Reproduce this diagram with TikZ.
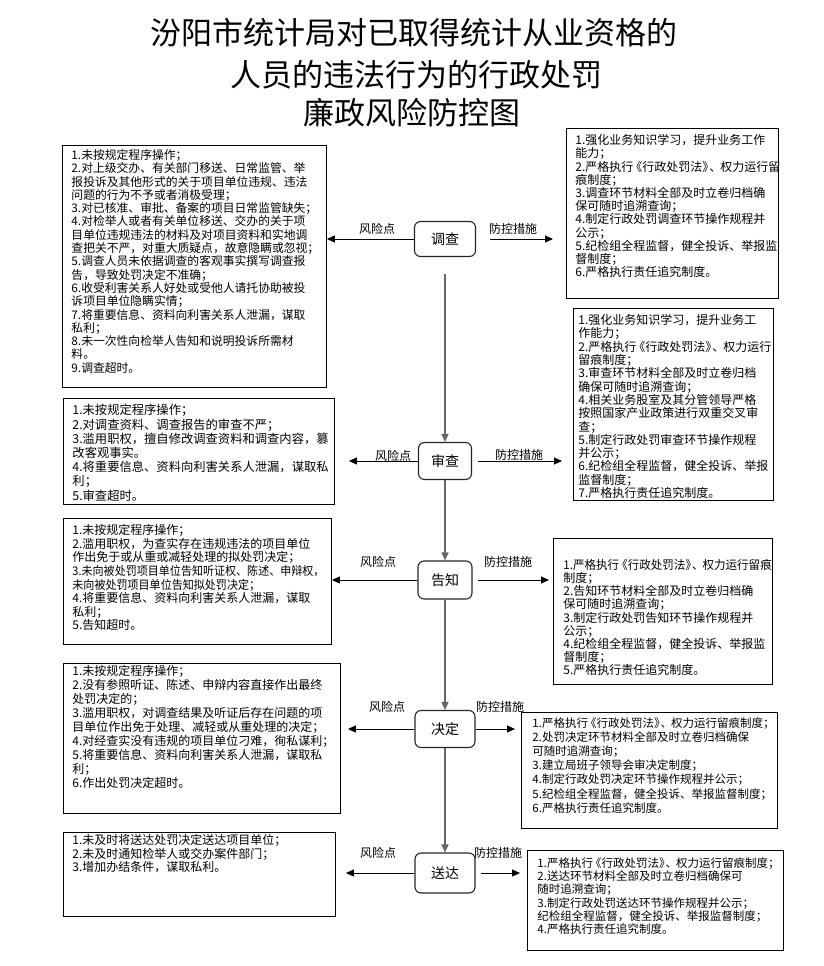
\documentclass[tikz,border=0pt]{standalone}
\usepackage{fontspec}
\setmainfont{Noto Sans CJK SC}
\usepackage{graphicx}
\usetikzlibrary{arrows.meta}
\newcommand\xzcf{\kern-3pt《行政处罚法》\kern-5pt、\kern-1pt}
% width, height, padx, pady, size, skip, text
\newcommand\bxt[7]{\hspace*{#3}\parbox[c][#2][t]{\dimexpr#1-#3\relax}{\fontsize{#5}{#6}\selectfont\vspace*{#4}#7}}
\tikzset{
  tbox/.style={draw=black, line width=0.9pt, inner sep=0pt, anchor=north west},
  stage/.style={draw=black!85, line width=1.1pt, rounded corners=6pt, font=\fontsize{14}{16}\selectfont, inner sep=0pt},
  lbl/.style={font=\fontsize{12}{14}\selectfont, inner sep=0pt},
  harr/.style={-{Triangle[length=8pt,width=7pt]}, line width=0.9pt, black},
  varr/.style={-{Triangle[length=8pt,width=7pt]}, line width=1.4pt, black!60},
  ttl/.style={font=\fontsize{31}{33}\selectfont, inner sep=0pt}
}
\begin{document}
\begin{tikzpicture}[x=1pt,y=-1pt]
\fill[white] (0,0) rectangle (823,966);
\useasboundingbox (0,0) rectangle (823,966);
% title
\node[ttl] (t1) at (414,33) {汾阳市统计局对已取得统计从业资格的};
\node[ttl] (t2) at (416,75) {人员的违法行为的行政处罚};
\node[ttl] (t3) at (412,113) {廉政风险防控图};
% stages
\node[stage, minimum width=61pt, minimum height=35pt] (s1) at (445,239) {调查};
\node[stage, minimum width=53pt, minimum height=37pt] (s2) at (445,461) {审查};
\node[stage, minimum width=54pt, minimum height=38pt] (s3) at (445,580) {告知};
\node[stage, minimum width=60pt, minimum height=37pt] (s4) at (445,729) {决定};
\node[stage, minimum width=60pt, minimum height=40pt] (s5) at (445,873) {送达};
% left boxes
\node[tbox] (L1) at (62,145) {\bxt{264pt}{242pt}{9pt}{4pt}{11.8pt}{13.3pt}{%
1.未按规定程序操作；\\
2.对上级交办、有关部门移送、日常监管、举\\
报投诉及其他形式的关于项目单位违规、违法\\
问题的行为不予或者消极受理；\\
3.对已核准、审批、备案的项目日常监管缺失；\\
4.对检举人或者有关单位移送、交办的关于项\\
目单位违规违法的材料及对项目资料和实地调\\
查把关不严，对重大质疑点，故意隐瞒或忽视；\\
5.调查人员未依据调查的客观事实撰写调查报\\
告，导致处罚决定不准确；\\
6.收受利害关系人好处或受他人请托协助被投\\
诉项目单位隐瞒实情；\\
7.将重要信息、资料向利害关系人泄漏，谋取\\
私利；\\
8.未一次性向检举人告知和说明投诉所需材\\
料。\\
9.调查超时。}};
\node[tbox] (L2) at (63,398) {\bxt{271pt}{106pt}{9pt}{6pt}{12.3pt}{14.2pt}{%
1.未按规定程序操作；\\
2.对调查资料、调查报告的审查不严；\\
3.滥用职权，擅自修改调查资料和调查内容，篡\\
改客观事实。\\
4.将重要信息、资料向利害关系人泄漏，谋取私\\
利；\\
5.审查超时。}};
\node[tbox] (L3) at (63,518) {\bxt{268pt}{126pt}{9pt}{6pt}{12pt}{13.6pt}{%
1.未按规定程序操作；\\
2.滥用职权，为查实存在违规违法的项目单位\\
作出免于或从重或减轻处理的拟处罚决定；\\
\scalebox{0.92}[1]{3.未向被处罚项目单位告知听证权、陈述、申辩权，}\\
\scalebox{0.92}[1]{未向被处罚项目单位告知拟处罚决定；}\\
4.将重要信息、资料向利害关系人泄漏，谋取\\
私利；\\
5.告知超时。}};
\node[tbox] (L4) at (63,663) {\bxt{277pt}{150pt}{9pt}{2pt}{12pt}{14pt}{%
1.未按规定程序操作；\\
2.没有参照听证、陈述、申辩内容直接作出最终\\
处罚决定的；\\
3.滥用职权，对调查结果及听证后存在问题的项\\
目单位作出免于处理、减轻或从重处理的决定；\\
4.对经查实没有违规的项目单位刁难，徇私谋利；\\
5.将重要信息、资料向利害关系人泄漏，谋取私\\
利；\\
6.作出处罚决定超时。}};
\node[tbox] (L5) at (63,832) {\bxt{272pt}{84pt}{9pt}{2pt}{12pt}{13.5pt}{%
1.未及时将送达处罚决定送达项目单位；\\
2.未及时通知检举人或交办案件部门；\\
3.增加办结条件，谋取私利。}};
% right boxes
\node[tbox] (R1) at (566,128) {\bxt{212pt}{170pt}{9pt}{6pt}{12pt}{13.2pt}{%
1.强化业务知识学习，提升业务工作\\
能力；\\
2.严格执行\xzcf 权力运行留\\
痕制度；\\
3.调查环节材料全部及时立卷归档确\\
保可随时追溯查询；\\
4.制定行政处罚调查环节操作规程并\\
公示；\\
5.纪检组全程监督，健全投诉、举报监\\
督制度；\\
6.严格执行责任追究制度。}};
\node[tbox] (R2) at (573,308) {\bxt{200pt}{192pt}{5pt}{6pt}{12pt}{13.3pt}{%
1.强化业务知识学习，提升业务工\\
作能力；\\
2.严格执行\xzcf 权力运行\\
留痕制度；\\
3.审查环节材料全部及时立卷归档\\
确保可随时追溯查询；\\
4.相关业务股室及其分管领导严格\\
按照国家产业政策进行双重交叉审\\
查；\\
5.制定行政处罚审查环节操作规程\\
并公示；\\
6.纪检组全程监督，健全投诉、举报\\
监督制度；\\
7.严格执行责任追究制度。}};
\node[tbox] (R3) at (553,538) {\bxt{219pt}{146pt}{10pt}{21pt}{12pt}{13.1pt}{%
\scalebox{0.96}[1]{1.严格执行\xzcf 权力运行留痕}\\
制度；\\
2.告知环节材料全部及时立卷归档确\\
保可随时追溯查询；\\
3.制定行政处罚告知环节操作规程并\\
公示；\\
4.纪检组全程监督，健全投诉、举报监\\
督制度；\\
5.严格执行责任追究制度。}};
\node[tbox] (R4) at (521,712) {\bxt{256pt}{116pt}{11pt}{5pt}{11.5pt}{14.2pt}{%
1.严格执行\xzcf 权力运行留痕制度；\\
2.处罚决定环节材料全部及时立卷归档确保\\
可随时追溯查询；\\
3.建立局班子领导会审决定制度；\\
4.制定行政处罚决定环节操作规程并公示；\\
5.纪检组全程监督，健全投诉、举报监督制度；\\
6.严格执行责任追究制度。}};
\node[tbox] (R5) at (527,850) {\bxt{256pt}{100pt}{10pt}{7pt}{11.5pt}{13.3pt}{%
1.严格执行\xzcf 权力运行留痕制度；\\
2.送达环节材料全部及时立卷归档确保可\\
随时追溯查询；\\
3.制定行政处罚送达环节操作规程并公示；\\
纪检组全程监督，健全投诉、举报监督制度；\\
4.严格执行责任追究制度。}};
% vertical flow
\draw[varr, shorten <=17pt] (s1.south) -- (s2.north);
\draw[varr] (s2.south) -- (s3.north);
\draw[varr] (s3.south) -- (s4.north);
\draw[varr] (s4.south) -- (s5.north);
% horizontal arrows
\draw[harr] (s1.west) -- (s1.west -| L1.east);
\draw[harr, shorten <=14pt, shorten >=13pt] (s1.east) -- (s1.east -| R1.west);
\draw[harr, shorten >=14pt] (s2.west) -- (s2.west -| L2.east);
\draw[harr, shorten <=6pt, shorten >=11pt] (s2.east) -- (s2.east -| R2.west);
\draw[harr] (s3.west) -- (s3.west -| L3.east);
\draw[harr, shorten <=5pt, shorten >=4pt] (s3.east) -- (s3.east -| R3.west);
\draw[harr, shorten >=7pt] (s4.west) -- (s4.west -| L4.east);
\draw[harr, shorten >=6pt] (s4.east) -- (s4.east -| R4.west);
\draw[harr, shorten >=10pt] (s5.west) -- (s5.west -| L5.east);
\draw[harr, shorten <=5pt, shorten >=7pt] (s5.east) -- (s5.east -| R5.west);
% labels
\node[lbl] (k1) at (377,229) {风险点};
\node[lbl] (c1) at (513,229) {防控措施};
\node[lbl] (k2) at (393,456) {风险点};
\node[lbl] (c2) at (519,455) {防控措施};
\node[lbl] (k3) at (378,562) {风险点};
\node[lbl] (c3) at (508,562) {防控措施};
\node[lbl] (k4) at (387,707) {风险点};
\node[lbl] (c4) at (500,707) {防控措施};
\node[lbl] (k5) at (378,853) {风险点};
\node[lbl] (c5) at (498,853) {防控措施};
\end{tikzpicture}
\end{document}
